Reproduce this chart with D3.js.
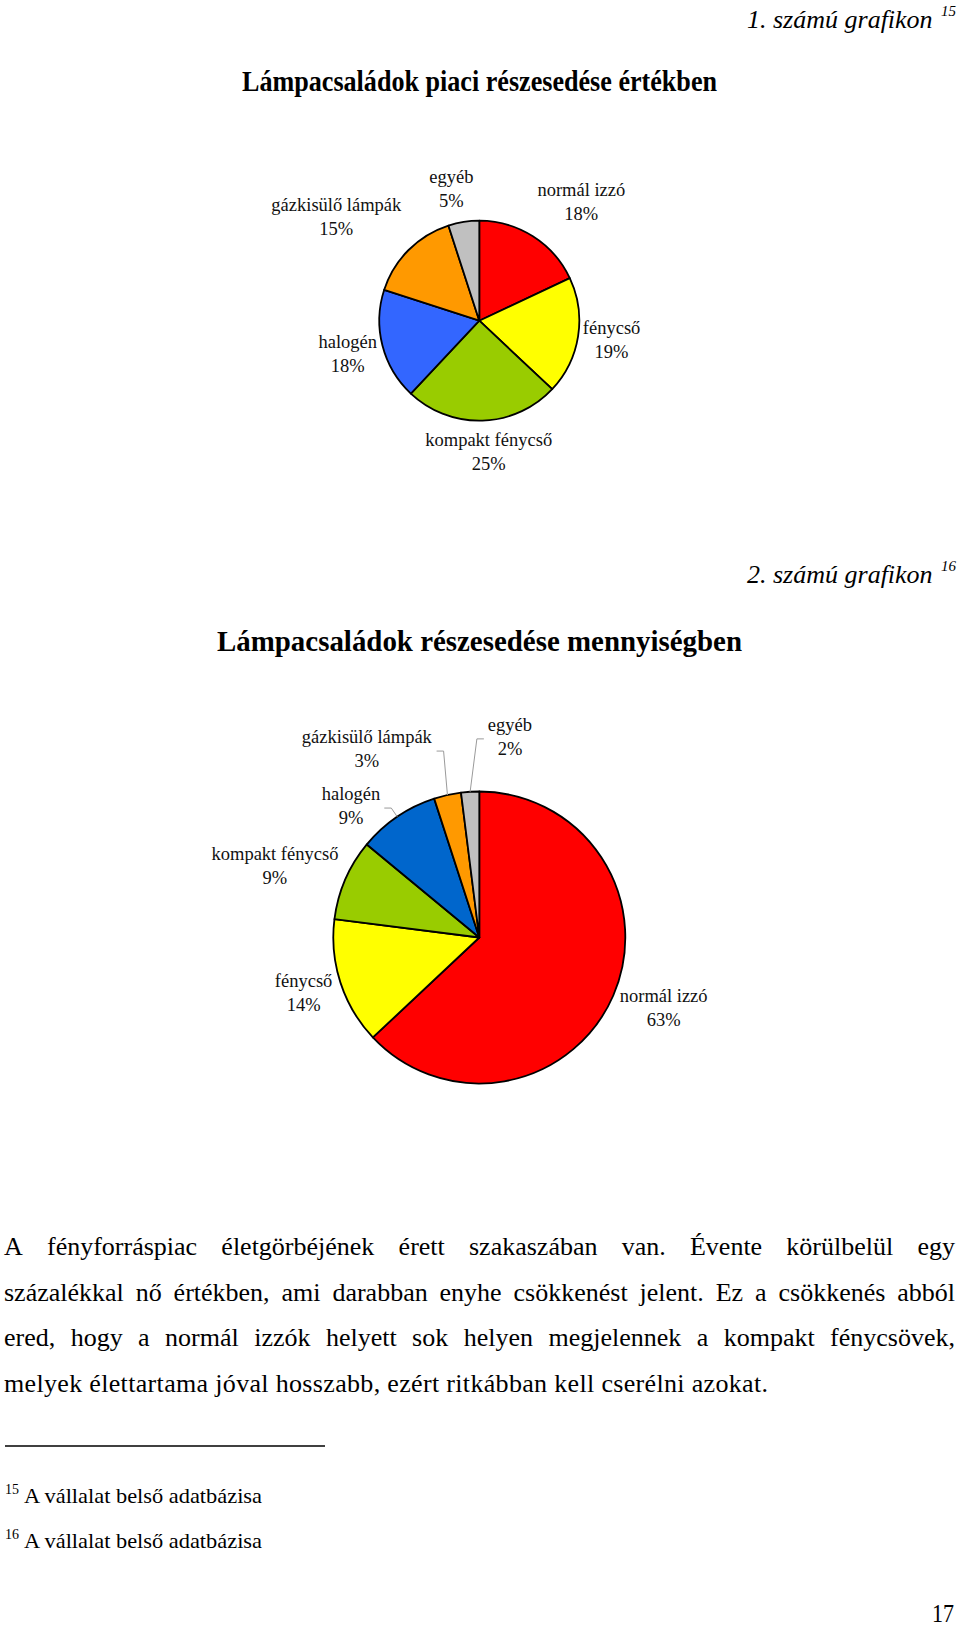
<!DOCTYPE html>
<html><head><meta charset="utf-8">
<script src="https://cdn.jsdelivr.net/npm/d3@7"></script>
<style>html,body{margin:0;padding:0;background:#fff;} svg{display:block;}</style>
</head><body>
<svg id="page" width="960" height="1627"></svg>
<script>
// ---- data ----
const categories = ["normál izzó", "fénycső", "kompakt fénycső", "halogén", "gázkisülő lámpák", "egyéb"];
const valueShare = [18, 19, 25, 18, 15, 5];      // 1. grafikon: értékben (%)
const quantityShare = [63, 14, 9, 9, 3, 2];      // 2. grafikon: mennyiségben (%)
const valueColors = ["#FF0000", "#FFFF00", "#99CC00", "#3366FF", "#FF9900", "#C0C0C0"];
const quantityColors = ["#FF0000", "#FFFF00", "#99CC00", "#0066CC", "#FF9900", "#C0C0C0"];
const chartCaptions = ["1. számú grafikon", "2. számú grafikon"];
const captionNotes = ["15", "16"];
const chartTitles = ["Lámpacsaládok piaci részesedése értékben", "Lámpacsaládok részesedése mennyiségben"];
const paragraphLines = [
  "A fényforráspiac életgörbéjének érett szakaszában van. Évente körülbelül egy",
  "százalékkal nő értékben, ami darabban enyhe csökkenést jelent. Ez a csökkenés abból",
  "ered, hogy a normál izzók helyett sok helyen megjelennek a kompakt fénycsövek,",
  "melyek élettartama jóval hosszabb, ezért ritkábban kell cserélni azokat."
];
const footnoteNums = ["15", "16"];
const footnoteTexts = ["A vállalat belső adatbázisa", "A vállalat belső adatbázisa"];
const pageNumber = "17";

// ---- layout ----
const serif = "'Liberation Serif','Times New Roman',serif";
const svg = d3.select("#page");
svg.append("rect").attr("width", 960).attr("height", 1627).attr("fill", "#fff");

const layout = {
  captions: [{ baseline: 28 }, { baseline: 583 }],
  titles: [{ baseline: 91, len: 475, size: 29 }, { baseline: 651, len: 525, size: 30 }],
  pies: [
    { cx: 479.3, cy: 320.7, r: 100, labelR: 140,
      nudges: [[27, 0], [-6, -3], [5, -9], [4, -2], [-44, -5], [-6, 7]], leaders: [] },
    { cx: 479.3, cy: 937.5, r: 146, labelR: 190,
      nudges: [[10, -5], [5, -3], [-30, 4], [-21.5, 25.7], [-71, -3], [42.6, -11]], leaders: [3, 4, 5] }
  ]
};

function caption(i) {
  const b = layout.captions[i].baseline;
  const t = svg.append("text").attr("y", b)
    .attr("font-family", serif).attr("font-style", "italic");
  t.append("tspan").attr("x", 747).attr("font-size", 26).text(chartCaptions[i]);
  t.append("tspan").attr("x", 941).attr("dy", -12).attr("font-size", 15).text(captionNotes[i]);
}

function title(i) {
  const t = layout.titles[i];
  svg.append("text").attr("x", 479.5).attr("y", t.baseline).attr("text-anchor", "middle")
    .attr("font-family", serif).attr("font-weight", "bold").attr("font-size", t.size)
    .attr("textLength", t.len).attr("lengthAdjust", "spacingAndGlyphs")
    .text(chartTitles[i]);
}

function drawPie(values, colors, cfg) {
  const pie = d3.pie().sort(null).value(d => d);
  const arcs = pie(values);
  const arc = d3.arc().innerRadius(0).outerRadius(cfg.r);
  const labelArc = d3.arc().innerRadius(cfg.labelR).outerRadius(cfg.labelR);
  const edgeArc = d3.arc().innerRadius(cfg.r).outerRadius(cfg.r);
  const g = svg.append("g").attr("transform", `translate(${cfg.cx},${cfg.cy})`);
  g.selectAll("path.slice").data(arcs).join("path").attr("class", "slice")
    .attr("d", arc).attr("fill", (d, i) => colors[i])
    .attr("stroke", "#000").attr("stroke-width", 1.8).attr("stroke-linejoin", "round");
  const line = d3.line();
  arcs.forEach((a, i) => {
    const [lx, ly] = labelArc.centroid(a);
    const x = lx + cfg.nudges[i][0], y = ly + cfg.nudges[i][1];
    const t = g.append("text").attr("font-family", serif).attr("font-size", 18.5)
      .attr("text-anchor", "middle").attr("fill", "#111");
    t.append("tspan").attr("x", x).attr("y", y - 12 + 6).text(categories[i]);
    t.append("tspan").attr("x", x).attr("y", y + 12 + 6).text(values[i] + "%");
    if (cfg.leaders.includes(i)) {
      const bb = t.node().getBBox();
      const [ex, ey] = edgeArc.centroid(a);
      let x0, x1;
      if (x < ex) { x0 = bb.x + bb.width + 4; x1 = x0 + 7; }
      else { x0 = bb.x - 4; x1 = x0 - 7; }
      g.append("path").attr("d", line([[x0, y + 2], [x1, y + 2], [ex, ey]]))
        .attr("fill", "none").attr("stroke", "#9a9a9a").attr("stroke-width", 1);
    }
  });
}

caption(0); title(0);
drawPie(valueShare, valueColors, layout.pies[0]);
caption(1); title(1);
drawPie(quantityShare, quantityColors, layout.pies[1]);

// paragraph
const paraBaselines = [1255, 1300.5, 1346, 1391.5];
paragraphLines.forEach((ln, li) => {
  const t = svg.append("text").attr("font-family", serif).attr("font-size", 26).attr("y", paraBaselines[li]);
  if (li === paragraphLines.length - 1) {
    t.attr("x", 4).attr("textLength", 764).attr("lengthAdjust", "spacing").text(ln);
    return;
  }
  const words = ln.split(" ");
  const spans = words.map(w => t.append("tspan").text(w));
  const widths = spans.map(s => s.node().getComputedTextLength());
  const gap = (951 - d3.sum(widths)) / (words.length - 1);
  let x = 4;
  spans.forEach((s, i) => { s.attr("x", x); x += widths[i] + gap; });
});

// footnotes
svg.append("line").attr("x1", 5).attr("x2", 325).attr("y1", 1446).attr("y2", 1446)
  .attr("stroke", "#000").attr("stroke-width", 1.3);
const fnBaselines = [1503, 1548];
footnoteTexts.forEach((ft, i) => {
  svg.append("text").attr("x", 5).attr("y", fnBaselines[i] - 9)
    .attr("font-family", serif).attr("font-size", 14).text(footnoteNums[i]);
  svg.append("text").attr("x", 24).attr("y", fnBaselines[i])
    .attr("font-family", serif).attr("font-size", 22)
    .attr("textLength", 238).attr("lengthAdjust", "spacingAndGlyphs").text(ft);
});

svg.append("text").attr("x", 932).attr("y", 1622).attr("font-family", serif)
  .attr("font-size", 25).attr("textLength", 22).attr("lengthAdjust", "spacingAndGlyphs")
  .text(pageNumber);
</script>
</body></html>
